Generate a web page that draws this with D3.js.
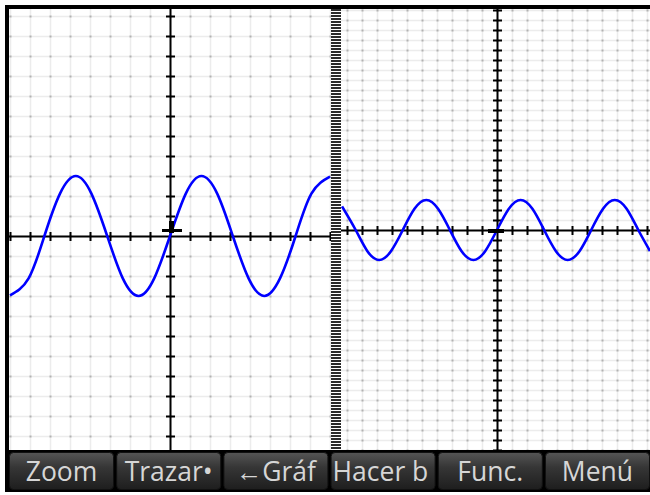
<!DOCTYPE html>
<html>
<head>
<meta charset="utf-8">
<script src="https://cdn.jsdelivr.net/npm/d3@7"></script>
<style>
  body { margin: 0; background: #fff; }
  svg { display: block; }
</style>
</head>
<body>
<svg id="screen"></svg>
<script>
// left view: y = 3 sin(x), 20px per unit both ways
const leftX = [-8, -7.07, -6.28, -5.5, -4.71, -3.93, -3.14, -2.36, -1.57, -0.79, 0, 0.79, 1.57, 2.36, 3.14, 3.93, 4.71, 5.5, 6.28, 7.07, 8];
const leftY = [-2.97, -2.12, 0, 2.12, 3, 2.12, 0, -2.12, -3, -2.12, 0, 2.12, 3, 2.12, 0, -2.12, -3, -2.12, 0, 2.12, 2.97];

// right view: same function, zoomed out (15px per x unit, 10px per y unit)
const rightX = [-10.33, -9.42, -8.64, -7.85, -7.07, -6.28, -5.5, -4.71, -3.93, -3.14, -2.36, -1.57, -0.79, 0, 0.79, 1.57, 2.36, 3.14, 3.93, 4.71, 5.5, 6.28, 7.07, 7.85, 8.64, 9.42, 10.2];
const rightY = [2.36, 0, -2.12, -3, -2.12, 0, 2.12, 3, 2.12, 0, -2.12, -3, -2.12, 0, 2.12, 3, 2.12, 0, -2.12, -3, -2.12, 0, 2.12, 3, 2.12, 0, -2.1];

const menuLabels = ['Zoom', 'Trazar\u2022', '\u2190Gr\u00e1f', 'Hacer b', 'Func.', 'Men\u00fa'];

const W = 650, H = 495;
const svg = d3.select('#screen').attr('width', W).attr('height', H);
const defs = svg.append('defs');

class GraphPanel {
    constructor(_config, _xs, _ys) {
        this.config = {
            id: _config.id,
            left: _config.left,
            right: _config.right,
            top: _config.top || 9,
            bottom: _config.bottom || 450,
            xDomain: _config.xDomain,
            yDomain: _config.yDomain
        };
        this.points = _xs.map((x, i) => ({x: x, y: _ys[i]}));
        this.initVis();
    }

    initVis() {
        let vis = this;
        let c = vis.config;

        vis.xScale = d3.scaleLinear().domain(c.xDomain).range([c.left, c.right]);
        vis.yScale = d3.scaleLinear().domain(c.yDomain).range([c.bottom, c.top]);

        defs.append('clipPath').attr('id', 'clip-' + c.id)
            .append('rect')
            .attr('x', c.left).attr('y', c.top)
            .attr('width', c.right - c.left).attr('height', c.bottom - c.top);

        vis.g = svg.append('g').attr('clip-path', `url(#clip-${c.id})`);
        vis.g.append('rect')
            .attr('x', c.left).attr('y', c.top)
            .attr('width', c.right - c.left).attr('height', c.bottom - c.top)
            .attr('fill', '#fff');

        vis.renderVis();
    }

    renderVis() {
        let vis = this;
        let c = vis.config;
        let xs = d3.range(Math.ceil(c.xDomain[0]), Math.floor(c.xDomain[1]) + 1);
        let ys = d3.range(Math.ceil(c.yDomain[0]), Math.floor(c.yDomain[1]) + 1);
        let x0 = Math.round(vis.xScale(0)), y0 = Math.round(vis.yScale(0));

        // grid
        vis.g.selectAll('.vgrid').data(xs).join('line')
            .attr('class', 'vgrid')
            .attr('x1', d => Math.round(vis.xScale(d)) + 0.5).attr('x2', d => Math.round(vis.xScale(d)) + 0.5)
            .attr('y1', c.top).attr('y2', c.bottom)
            .attr('stroke', '#ececec').attr('stroke-width', 1.5);
        vis.g.selectAll('.hgrid').data(ys).join('line')
            .attr('class', 'hgrid')
            .attr('y1', d => Math.round(vis.yScale(d)) + 0.5).attr('y2', d => Math.round(vis.yScale(d)) + 0.5)
            .attr('x1', c.left).attr('x2', c.right)
            .attr('stroke', '#ececec').attr('stroke-width', 1.5);

        let dots = d3.cross(xs, ys);
        vis.g.selectAll('.dot').data(dots).join('rect')
            .attr('class', 'dot')
            .attr('x', d => Math.round(vis.xScale(d[0])) - 0.5)
            .attr('y', d => Math.round(vis.yScale(d[1])) - 0.5)
            .attr('width', 2).attr('height', 2)
            .attr('fill', '#b2b2b2');

        // axes
        vis.g.append('line')
            .attr('x1', c.left).attr('x2', c.right)
            .attr('y1', y0 + 0.5).attr('y2', y0 + 0.5)
            .attr('stroke', '#000').attr('stroke-width', 2);
        vis.g.append('line')
            .attr('x1', x0 + 0.5).attr('x2', x0 + 0.5)
            .attr('y1', c.top).attr('y2', c.bottom)
            .attr('stroke', '#000').attr('stroke-width', 2);

        vis.g.selectAll('.xtick').data(xs.filter(d => d !== 0)).join('line')
            .attr('class', 'xtick')
            .attr('x1', d => Math.round(vis.xScale(d)) + 0.5).attr('x2', d => Math.round(vis.xScale(d)) + 0.5)
            .attr('y1', y0 - 4).attr('y2', y0 + 5)
            .attr('stroke', '#000').attr('stroke-width', 2);
        vis.g.selectAll('.ytick').data(ys.filter(d => d !== 0)).join('line')
            .attr('class', 'ytick')
            .attr('y1', d => Math.round(vis.yScale(d)) + 0.5).attr('y2', d => Math.round(vis.yScale(d)) + 0.5)
            .attr('x1', x0 - 4).attr('x2', x0 + 5)
            .attr('stroke', '#000').attr('stroke-width', 2);

        // function curve
        let line = d3.line()
            .x(d => vis.xScale(d.x))
            .y(d => vis.yScale(d.y))
            .curve(d3.curveNatural);
        vis.g.append('path')
            .datum(vis.points)
            .attr('d', line)
            .attr('fill', 'none')
            .attr('stroke', '#0000ff')
            .attr('stroke-width', 2.6);
    }
}

let leftPanel = new GraphPanel({id: 'left', left: 9, right: 331, xDomain: [-8.05, 8.05], yDomain: [-10.7, 11.35]}, leftX, leftY);
let rightPanel = new GraphPanel({id: 'right', left: 341, right: 650, xDomain: [-10.4, 10.2], yDomain: [-22, 22.1]}, rightX, rightY);

// trace cursors near the origin
svg.append('rect').attr('x', 162).attr('y', 229).attr('width', 20).attr('height', 3).attr('fill', '#000');
svg.append('rect').attr('x', 169).attr('y', 221).attr('width', 5).attr('height', 12).attr('fill', '#000');
svg.append('rect').attr('x', 488).attr('y', 229).attr('width', 16).attr('height', 4).attr('fill', '#000');

// split-screen divider
const stripes = d3.range(9, 450, 3);
svg.selectAll('.stripe').data(stripes).join('rect')
    .attr('class', 'stripe')
    .attr('x', 331).attr('y', d => d)
    .attr('width', 10).attr('height', 2)
    .attr('fill', '#2a2a2a');

// screen frame
svg.append('rect').attr('x', 5).attr('y', 5).attr('width', W - 5).attr('height', 4).attr('fill', '#000');
svg.append('rect').attr('x', 5).attr('y', 5).attr('width', 4).attr('height', 487).attr('fill', '#000');

// soft-key menu
const grad = defs.append('linearGradient').attr('id', 'btn').attr('x1', 0).attr('x2', 0).attr('y1', 0).attr('y2', 1);
grad.append('stop').attr('offset', '0%').attr('stop-color', '#555');
grad.append('stop').attr('offset', '40%').attr('stop-color', '#363636');
grad.append('stop').attr('offset', '100%').attr('stop-color', '#1e1e1e');

svg.append('rect').attr('x', 5).attr('y', 450).attr('width', W - 5).attr('height', 42).attr('fill', '#000');

const btnX = d3.scaleBand().domain(menuLabels).range([9, 650]).paddingInner(0.02);

const btns = svg.selectAll('.btn').data(menuLabels).join('g').attr('class', 'btn');
btns.append('clipPath').attr('id', (d, i) => 'bclip' + i)
    .append('rect')
    .attr('x', d => btnX(d)).attr('y', 452)
    .attr('width', btnX.bandwidth() - 3).attr('height', 38);
btns.append('rect')
    .attr('x', d => btnX(d) + 0.5).attr('y', 452.5)
    .attr('width', btnX.bandwidth() - 1).attr('height', 37)
    .attr('rx', 4)
    .attr('fill', 'url(#btn)')
    .attr('stroke', '#111');
btns.append('text')
    .attr('clip-path', (d, i) => `url(#bclip${i})`)
    .attr('x', d => d === 'Hacer b' ? btnX(d) + 2 : btnX(d) + btnX.bandwidth() / 2)
    .attr('y', 481)
    .attr('text-anchor', d => d === 'Hacer b' ? 'start' : 'middle')
    .attr('font-family', 'Open Sans')
    .attr('font-size', 26.5)
    .attr('fill', '#d6d6d6')
    .text(d => d);
</script>
</body>
</html>
